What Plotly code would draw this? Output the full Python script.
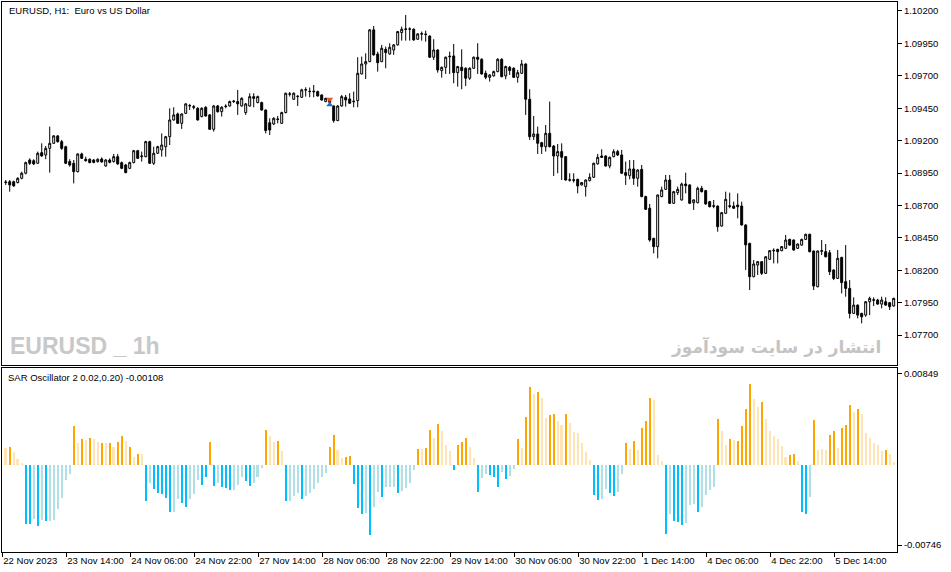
import plotly.graph_objects as go

# EURUSD H1 candles, 22 Nov 2023 22:00 onwards
opens = [
    1.08876, 1.08883, 1.08883, 1.08876, 1.08909, 1.08948, 1.09050, 1.09045, 1.09025, 1.09107,
    1.09089, 1.09140, 1.09179, 1.09236, 1.09192, 1.09153, 1.09038, 1.09025, 1.08960, 1.09097,
    1.09056, 1.09056, 1.09050, 1.09038, 1.09058, 1.09004, 1.09050, 1.09038, 1.09076, 1.09030,
    1.09012, 1.08986, 1.09030, 1.09122, 1.09076, 1.09076, 1.09192, 1.09025, 1.09102, 1.09128,
    1.09153, 1.09230, 1.09359, 1.09405, 1.09333, 1.09410, 1.09467, 1.09462, 1.09449, 1.09385,
    1.09457, 1.09398, 1.09287, 1.09467, 1.09423, 1.09462, 1.09467, 1.09501, 1.09501, 1.09467,
    1.09416, 1.09467, 1.09539, 1.09493, 1.09493, 1.09436, 1.09338, 1.09328, 1.09362, 1.09333,
    1.09416, 1.09557, 1.09519, 1.09539, 1.09534, 1.09589, 1.09578, 1.09576, 1.09578, 1.09552,
    1.09501, 1.09510, 1.09467, 1.09354, 1.09467, 1.09534, 1.09521, 1.09499, 1.09508, 1.09714,
    1.09791, 1.09809, 1.10054, 1.09868, 1.09809, 1.09904, 1.09868, 1.09899, 1.09938, 1.10033,
    1.10057, 1.10059, 1.10059, 1.09982, 1.10021, 1.10022, 1.10007, 1.09843, 1.09899, 1.09740,
    1.09765, 1.09846, 1.09853, 1.09724, 1.09765, 1.09758, 1.09681, 1.09758, 1.09843, 1.09827,
    1.09719, 1.09688, 1.09699, 1.09732, 1.09827, 1.09699, 1.09765, 1.09758, 1.09688, 1.09719,
    1.09791, 1.09519, 1.09230, 1.09251, 1.09184, 1.09153, 1.09256, 1.09158, 1.09081, 1.09115,
    1.09076, 1.08894, 1.08898, 1.08901, 1.08858, 1.08845, 1.08891, 1.08917, 1.09020, 1.09081,
    1.09081, 1.09004, 1.09076, 1.09115, 1.09089, 1.08953, 1.08929, 1.08981, 1.08909, 1.08978,
    1.08768, 1.08678, 1.08446, 1.08382, 1.08768, 1.08824, 1.08896, 1.08716, 1.08798, 1.08742,
    1.08865, 1.08858, 1.08721, 1.08721, 1.08832, 1.08814, 1.08729, 1.08698, 1.08695, 1.08541,
    1.08639, 1.08697, 1.08695, 1.08703, 1.08695, 1.08549, 1.08407, 1.08150, 1.08240, 1.08266,
    1.08176, 1.08284, 1.08349, 1.08361, 1.08351, 1.08369, 1.08438, 1.08433, 1.08369, 1.08394,
    1.08438, 1.08477, 1.08348, 1.08073, 1.08346, 1.08343, 1.08335, 1.08202, 1.08137, 1.08299,
    1.08112, 1.08060, 1.07867, 1.07931, 1.07867, 1.07854, 1.07957, 1.07968, 1.07970, 1.07939,
    1.07957, 1.07950, 1.07924,
]
highs = [
    1.08896, 1.08896, 1.08891, 1.08917, 1.08960, 1.09038, 1.09063, 1.09056, 1.09115, 1.09179,
    1.09158, 1.09308, 1.09243, 1.09243, 1.09205, 1.09160, 1.09056, 1.09050, 1.09102, 1.09107,
    1.09076, 1.09063, 1.09058, 1.09063, 1.09071, 1.09058, 1.09063, 1.09097, 1.09097, 1.09038,
    1.09020, 1.09038, 1.09128, 1.09128, 1.09115, 1.09199, 1.09199, 1.09153, 1.09160, 1.09256,
    1.09236, 1.09449, 1.09457, 1.09416, 1.09410, 1.09490, 1.09483, 1.09475, 1.09457, 1.09457,
    1.09465, 1.09405, 1.09475, 1.09475, 1.09465, 1.09480, 1.09508, 1.09513, 1.09591, 1.09534,
    1.09490, 1.09565, 1.09565, 1.09547, 1.09500, 1.09440, 1.09372, 1.09380, 1.09390, 1.09423,
    1.09570, 1.09575, 1.09572, 1.09550, 1.09600, 1.09611, 1.09609, 1.09629, 1.09585, 1.09557,
    1.09530, 1.09520, 1.09470, 1.09472, 1.09552, 1.09552, 1.09565, 1.09578, 1.09843, 1.09848,
    1.09873, 1.10060, 1.10084, 1.09886, 1.09938, 1.09925, 1.09951, 1.09945, 1.10046, 1.10079,
    1.10169, 1.10074, 1.10066, 1.10028, 1.10041, 1.10048, 1.10012, 1.09982, 1.09904, 1.09771,
    1.09848, 1.09886, 1.09945, 1.09776, 1.09904, 1.09765, 1.09765, 1.09848, 1.09951, 1.09835,
    1.09740, 1.09712, 1.09740, 1.09835, 1.09835, 1.09778, 1.09776, 1.09765, 1.09745, 1.09822,
    1.09796, 1.09596, 1.09390, 1.09308, 1.09190, 1.09320, 1.09501, 1.09165, 1.09174, 1.09179,
    1.09081, 1.08948, 1.08948, 1.08906, 1.08880, 1.08901, 1.08948, 1.09030, 1.09097, 1.09133,
    1.09086, 1.09076, 1.09133, 1.09128, 1.09128, 1.09038, 1.09050, 1.09050, 1.08980, 1.09012,
    1.08775, 1.08711, 1.08450, 1.08785, 1.08845, 1.08935, 1.08935, 1.08812, 1.08845, 1.08876,
    1.08953, 1.08863, 1.08747, 1.08845, 1.08850, 1.08820, 1.08735, 1.08742, 1.08700, 1.08650,
    1.08806, 1.08798, 1.08729, 1.08793, 1.08729, 1.08555, 1.08412, 1.08279, 1.08271, 1.08271,
    1.08309, 1.08356, 1.08369, 1.08366, 1.08387, 1.08472, 1.08443, 1.08438, 1.08407, 1.08443,
    1.08482, 1.08482, 1.08353, 1.08353, 1.08433, 1.08402, 1.08356, 1.08207, 1.08356, 1.08304,
    1.08394, 1.08124, 1.07991, 1.07936, 1.07872, 1.07962, 1.07996, 1.07991, 1.07980, 1.07996,
    1.07991, 1.07955, 1.07988,
]
lows = [
    1.08858, 1.08806, 1.08845, 1.08870, 1.08901, 1.08940, 1.09012, 1.09012, 1.09020, 1.09076,
    1.09056, 1.08953, 1.09174, 1.09184, 1.09128, 1.09020, 1.08999, 1.08870, 1.08955, 1.09058,
    1.09038, 1.09025, 1.09025, 1.09030, 1.09030, 1.08999, 1.09025, 1.09030, 1.09012, 1.08980,
    1.08948, 1.08980, 1.09025, 1.09058, 1.09038, 1.09071, 1.09020, 1.09012, 1.09097, 1.09076,
    1.09076, 1.09166, 1.09354, 1.09328, 1.09290, 1.09405, 1.09436, 1.09440, 1.09354, 1.09380,
    1.09385, 1.09282, 1.09269, 1.09416, 1.09385, 1.09449, 1.09462, 1.09490, 1.09398, 1.09462,
    1.09398, 1.09462, 1.09457, 1.09488, 1.09430, 1.09256, 1.09243, 1.09320, 1.09333, 1.09328,
    1.09410, 1.09540, 1.09513, 1.09467, 1.09530, 1.09539, 1.09534, 1.09534, 1.09540, 1.09508,
    1.09496, 1.09488, 1.09338, 1.09350, 1.09462, 1.09462, 1.09483, 1.09457, 1.09457, 1.09710,
    1.09675, 1.09805, 1.09855, 1.09732, 1.09805, 1.09758, 1.09863, 1.09861, 1.09933, 1.09971,
    1.09971, 1.09971, 1.09971, 1.09976, 1.09971, 1.09963, 1.09838, 1.09822, 1.09724, 1.09686,
    1.09714, 1.09714, 1.09642, 1.09616, 1.09596, 1.09621, 1.09668, 1.09752, 1.09714, 1.09708,
    1.09673, 1.09655, 1.09693, 1.09727, 1.09688, 1.09673, 1.09706, 1.09683, 1.09647, 1.09714,
    1.09398, 1.09205, 1.09205, 1.09097, 1.09097, 1.09115, 1.09148, 1.08927, 1.08948, 1.08896,
    1.08891, 1.08883, 1.08876, 1.08793, 1.08853, 1.08768, 1.08886, 1.08912, 1.09015, 1.09066,
    1.08999, 1.08986, 1.09071, 1.09081, 1.08943, 1.08858, 1.08901, 1.08858, 1.08845, 1.08763,
    1.08665, 1.08420, 1.08330, 1.08292, 1.08763, 1.08819, 1.08711, 1.08711, 1.08780, 1.08737,
    1.08793, 1.08711, 1.08665, 1.08716, 1.08800, 1.08706, 1.08685, 1.08678, 1.08497, 1.08536,
    1.08634, 1.08678, 1.08672, 1.08600, 1.08544, 1.08202, 1.08047, 1.08145, 1.08163, 1.08163,
    1.08171, 1.08279, 1.08253, 1.08253, 1.08346, 1.08364, 1.08389, 1.08351, 1.08364, 1.08389,
    1.08433, 1.08338, 1.08047, 1.08068, 1.08317, 1.08299, 1.08163, 1.08124, 1.08132, 1.08021,
    1.07996, 1.07829, 1.07862, 1.07829, 1.07790, 1.07841, 1.07854, 1.07924, 1.07934, 1.07906,
    1.07926, 1.07893, 1.07919,
]
closes = [
    1.08880, 1.08858, 1.08850, 1.08909, 1.08948, 1.09030, 1.09025, 1.09020, 1.09102, 1.09081,
    1.09140, 1.09179, 1.09236, 1.09192, 1.09140, 1.09025, 1.09012, 1.08960, 1.09097, 1.09063,
    1.09045, 1.09030, 1.09032, 1.09056, 1.09035, 1.09050, 1.09032, 1.09076, 1.09020, 1.08986,
    1.08953, 1.09030, 1.09122, 1.09063, 1.09081, 1.09192, 1.09025, 1.09102, 1.09153, 1.09166,
    1.09230, 1.09359, 1.09398, 1.09333, 1.09405, 1.09483, 1.09470, 1.09457, 1.09359, 1.09449,
    1.09390, 1.09287, 1.09467, 1.09423, 1.09457, 1.09465, 1.09501, 1.09504, 1.09483, 1.09526,
    1.09483, 1.09539, 1.09526, 1.09539, 1.09436, 1.09277, 1.09282, 1.09372, 1.09366, 1.09416,
    1.09565, 1.09560, 1.09565, 1.09542, 1.09591, 1.09593, 1.09580, 1.09580, 1.09544, 1.09513,
    1.09526, 1.09495, 1.09354, 1.09467, 1.09539, 1.09513, 1.09488, 1.09503, 1.09719, 1.09791,
    1.09809, 1.10054, 1.09861, 1.09801, 1.09912, 1.09879, 1.09920, 1.09938, 1.10041, 1.10059,
    1.10061, 1.10061, 1.09976, 1.10023, 1.10025, 1.10018, 1.09843, 1.09899, 1.09745, 1.09765,
    1.09843, 1.09850, 1.09724, 1.09771, 1.09740, 1.09681, 1.09758, 1.09843, 1.09827, 1.09714,
    1.09688, 1.09706, 1.09732, 1.09827, 1.09693, 1.09771, 1.09740, 1.09688, 1.09724, 1.09791,
    1.09519, 1.09230, 1.09251, 1.09179, 1.09153, 1.09256, 1.09153, 1.09081, 1.09115, 1.09071,
    1.08896, 1.08898, 1.08894, 1.08850, 1.08876, 1.08896, 1.08917, 1.09025, 1.09071, 1.09071,
    1.09004, 1.09071, 1.09115, 1.09089, 1.08948, 1.08932, 1.08981, 1.08909, 1.08973, 1.08768,
    1.08670, 1.08433, 1.08382, 1.08780, 1.08819, 1.08896, 1.08716, 1.08806, 1.08824, 1.08865,
    1.08852, 1.08716, 1.08742, 1.08832, 1.08806, 1.08711, 1.08690, 1.08694, 1.08536, 1.08644,
    1.08747, 1.08693, 1.08678, 1.08690, 1.08549, 1.08395, 1.08150, 1.08248, 1.08266, 1.08176,
    1.08304, 1.08351, 1.08353, 1.08343, 1.08382, 1.08433, 1.08394, 1.08356, 1.08402, 1.08438,
    1.08477, 1.08343, 1.08078, 1.08348, 1.08350, 1.08304, 1.08189, 1.08137, 1.08292, 1.08104,
    1.08060, 1.07867, 1.07931, 1.07854, 1.07841, 1.07957, 1.07983, 1.07972, 1.07939, 1.07970,
    1.07931, 1.07919, 1.07983,
]

# SAR Oscillator 2 histogram; D = strong colour, L = pale colour
osc = [
    0.00158, 0.00167, 0.00121, 0.00056, 0.00009, -0.00548, -0.00548, -0.00502, -0.00567, -0.00511,
    -0.00520, -0.00520, -0.00511, -0.00409, -0.00307, -0.00139, -0.00084,
    0.00362, 0.00204, 0.00242, 0.00232, 0.00251, 0.00242, 0.00214, 0.00204, 0.00204, 0.00204,
    0.00167, 0.00214, 0.00269, 0.00223, 0.00167, 0.00074, 0.00102, 0.00102,
    -0.00334, -0.00167, -0.00223, -0.00260, -0.00269, -0.00307, -0.00437, -0.00437, -0.00316,
    -0.00353, -0.00390, -0.00316, -0.00269, -0.00139, -0.00186, -0.00111,
    0.00214,
    -0.00195, -0.00167, -0.00204, -0.00214, -0.00232, -0.00232, -0.00186, -0.00111, -0.00149,
    -0.00195, -0.00167, -0.00111, -0.00028,
    0.00325, 0.00269, 0.00214, 0.00223, 0.00130,
    -0.00334, -0.00334, -0.00288, -0.00260, -0.00316, -0.00288, -0.00260, -0.00223, -0.00167,
    -0.00111, -0.00074,
    0.00167, 0.00279, 0.00139, 0.00065, 0.00074, 0.00084,
    -0.00177, -0.00399, -0.00455, -0.00446, -0.00650, -0.00390, -0.00251, -0.00297, -0.00204,
    -0.00204, -0.00204, -0.00260, -0.00242, -0.00214, -0.00167, -0.00046,
    0.00149, 0.00149, 0.00158, 0.00325, 0.00251, 0.00381, 0.00316, 0.00186, 0.00130,
    -0.00046,
    0.00186, 0.00214, 0.00251, 0.00167, 0.00065,
    -0.00251, -0.00121, -0.00084, -0.00093, -0.00111, -0.00204, -0.00065, -0.00130, -0.00102, -0.00037,
    0.00242, 0.00158, 0.00446, 0.00725, 0.00660, 0.00678, 0.00622, 0.00437, 0.00465, 0.00474,
    0.00409, 0.00372, 0.00474, 0.00390, 0.00307, 0.00297, 0.00204, 0.00121, 0.00046,
    -0.00279, -0.00325, -0.00316, -0.00223, -0.00260, -0.00288, -0.00251, -0.00084,
    0.00204, 0.00149, 0.00223, 0.00139, 0.00344, 0.00409, 0.00622, 0.00604, 0.00093, 0.00037,
    -0.00641, -0.00455, -0.00520, -0.00530, -0.00557, -0.00539, -0.00372, -0.00362, -0.00437,
    -0.00390, -0.00279, -0.00232, -0.00204,
    0.00427, 0.00316, 0.00186, 0.00242, 0.00232, 0.00223, 0.00362, 0.00520, 0.00752, 0.00613,
    0.00539, 0.00585, 0.00427, 0.00316, 0.00269, 0.00242, 0.00177, 0.00074, 0.00093, 0.00102, 0.00037,
    -0.00437, -0.00455, -0.00297,
    0.00418, 0.00139, 0.00149, 0.00139, 0.00279, 0.00316, 0.00158, 0.00344, 0.00372, 0.00557,
    0.00492, 0.00520, 0.00474, 0.00297, 0.00251, 0.00204, 0.00186, 0.00130, 0.00139, 0.00102, 0.00028,
]
osc_shade = (
    "LDLLLDDLDLDLLLLLL" "DLDLDLLDLDLDDLDLDL" "DLDDDDDLLDDLLLDD" "D" "DLDDDLLLDDLLL"
    "DLLDL" "DLLLDLLLLLL" "DDLLDD" "DDDLDLLDLLLDLLLL" "DLDDLDLLL" "D" "DDDLL"
    "DLLDDDLDLL" "DLDDLDLLDDLLDLLLLLL" "DDLLDDLL" "DLDLDDDLLL" "DLDDDLLLDLLLL"
    "DLLDLDDDDLLDLLLLLLDDL" "DDL" "DLLLDDLDDDLDLLLLLLDLL"
)

time_labels = ["22 Nov 2023", "23 Nov 14:00", "24 Nov 06:00", "24 Nov 22:00",
               "27 Nov 14:00", "28 Nov 06:00", "28 Nov 22:00", "29 Nov 14:00",
               "30 Nov 06:00", "30 Nov 22:00", "1 Dec 14:00", "4 Dec 06:00",
               "4 Dec 22:00", "5 Dec 14:00"]
price_ticks = [1.07700, 1.07950, 1.08200, 1.08450, 1.08700, 1.08950,
               1.09200, 1.09450, 1.09700, 1.09950, 1.10200]
osc_ticks = [0.00849, -0.00746]

# trade arrows shown on the chart
signal_bar = 81
signal_sell = 1.09519
signal_buy = 1.09477

n = len(opens)
idx = list(range(n))

colors = []
for v, s in zip(osc, osc_shade):
    if v >= 0:
        colors.append("#FFA500" if s == "D" else "#FFE4B5")
    else:
        colors.append("#00BFFF" if s == "D" else "#B0E0E6")

FONT = "Liberation Sans, Arial, sans-serif"

fig = go.Figure()
fig.add_trace(go.Candlestick(
    x=idx, open=opens, high=highs, low=lows, close=closes,
    increasing=dict(fillcolor="white", line=dict(color="black", width=1)),
    decreasing=dict(fillcolor="black", line=dict(color="black", width=1)),
    whiskerwidth=0, xaxis="x", yaxis="y", hoverinfo="skip",
))
fig.add_trace(go.Scatter(
    x=[signal_bar], y=[signal_sell], mode="markers",
    marker=dict(symbol="triangle-down", size=6, color="#E8542A"),
    xaxis="x", yaxis="y", hoverinfo="skip",
))
fig.add_trace(go.Scatter(
    x=[signal_bar], y=[signal_buy], mode="markers",
    marker=dict(symbol="triangle-up", size=6, color="#1F6FC0"),
    xaxis="x", yaxis="y", hoverinfo="skip",
))
fig.add_trace(go.Bar(
    x=idx, y=osc, marker=dict(color=colors, line=dict(width=0)),
    width=0.5, xaxis="x2", yaxis="y2", hoverinfo="skip",
))

xr = [-0.93, n - 1 + 0.83]
tick_pos = [16 * i - 0.85 for i in range(len(time_labels))]

fig.update_layout(
    width=951, height=572,
    margin=dict(l=2, r=54, t=2, b=20, autoexpand=False),
    paper_bgcolor="white", plot_bgcolor="white",
    showlegend=False, bargap=0,
    font=dict(family=FONT, size=10, color="black"),
    xaxis=dict(domain=[0, 1], anchor="y", range=xr, showgrid=False, zeroline=False,
               showticklabels=False, ticks="", showline=True, mirror=True, automargin=False,
               linecolor="black", linewidth=1, rangeslider=dict(visible=False)),
    yaxis=dict(domain=[0.3400, 1], anchor="x", side="right", range=[1.07469, 1.10269],
               tickvals=price_ticks, ticktext=[f"{t:.5f}" for t in price_ticks],
               ticks="outside", ticklen=4, tickcolor="black", showgrid=False,
               zeroline=False, showline=True, mirror=True, linecolor="black",
               linewidth=1, automargin=False, tickfont=dict(family=FONT, size=9.5)),
    xaxis2=dict(domain=[0, 1], anchor="y2", matches="x", range=xr, showgrid=False,
                zeroline=False, tickvals=tick_pos, ticktext=time_labels, tickangle=0,
                ticks="outside", ticklen=4, tickcolor="black", automargin=False,
                ticklabelposition="outside right", showline=True, mirror=True,
                linecolor="black", linewidth=1, tickfont=dict(family=FONT, size=9.5)),
    yaxis2=dict(domain=[0, 0.3345], anchor="x2", side="right", range=[-0.00811, 0.00898],
                tickvals=osc_ticks, ticktext=[f"{t:.5f}" for t in osc_ticks],
                ticks="outside", ticklen=4, tickcolor="black", showgrid=False,
                zeroline=False, showline=True, mirror=True, linecolor="black",
                linewidth=1, automargin=False, tickfont=dict(family=FONT, size=9.5)),
)

fig.add_annotation(text="EURUSD, H1:\u00a0 Euro vs US Dollar", xref="paper", yref="paper",
                   x=0.0056, y=0.984, xanchor="left", yanchor="middle", showarrow=False,
                   font=dict(family=FONT, size=9.5, color="black"))
fig.add_annotation(text="SAR Oscillator 2 0.02,0.20) -0.00108", xref="paper", yref="paper",
                   x=0.0042, y=0.3176, xanchor="left", yanchor="middle", showarrow=False,
                   font=dict(family=FONT, size=9.5, color="black"))
fig.add_annotation(text="<b>EURUSD _ 1h</b>", xref="paper", yref="paper",
                   x=0.0067, y=0.374, xanchor="left", yanchor="middle", showarrow=False,
                   font=dict(family="Liberation Sans Narrow, Liberation Sans, sans-serif",
                             size=23, color="#C8C8C8"))
fig.add_annotation(text="<b>انتشار در سایت سودآموز</b>", xref="paper", yref="paper",
                   x=0.9844, y=0.372, xanchor="right", yanchor="middle", showarrow=False,
                   font=dict(family="DejaVu Sans, sans-serif", size=17, color="#C4C4C4"))

fig.write_html("out.html", config={"displayModeBar": False},
               post_script="document.body.style.margin='0';")
